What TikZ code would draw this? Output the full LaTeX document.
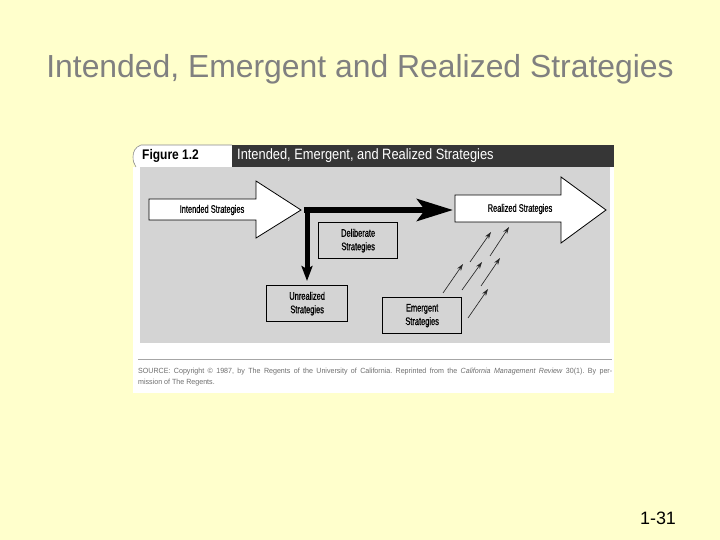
\documentclass[tikz,border=0pt]{standalone}
\usepackage{fontspec}
\setmainfont{Liberation Sans}
\newfontfamily\condf[FakeStretch=0.68,FakeBold=0.8]{Liberation Sans}
\newfontfamily\hdrf[FakeStretch=0.86]{Liberation Sans}
\newfontfamily\srcf[FakeStretch=0.95]{Liberation Sans}
\usetikzlibrary{arrows.meta}
\definecolor{slidebg}{HTML}{FFFFCC}
\definecolor{titlegray}{HTML}{808080}
\definecolor{panelgray}{HTML}{D4D4D4}
\definecolor{hdrbar}{HTML}{363636}
\definecolor{srcgray}{HTML}{6E6E6E}
\definecolor{tabline}{HTML}{8A8A8A}
\begin{document}
\frenchspacing
\begin{tikzpicture}[x=1bp,y=-1bp,
  lbl/.style={font=\condf\fontsize{11}{13.5}\selectfont, inner sep=0pt, align=center},
  sbox/.style={draw=black, line width=1.3bp, fill=panelgray, minimum height=36bp, anchor=north west, lbl},
  bigarrow/.style={draw=black, line width=0.8bp, fill=white, line join=miter},
  thickh/.style={line width=6bp, -{Stealth[length=36bp,width=22bp,inset=8bp]}},
  thickv/.style={line width=5bp, -{Stealth[length=15bp,width=11bp,inset=3bp]}},
  thinarrow/.style={draw=black!85, line width=0.65bp, -{Stealth[length=7bp,width=4.5bp]}}
]
\useasboundingbox (0,0) rectangle (720,540);
\fill[slidebg] (0,0) rectangle (720,540);

% slide title and page number
\node[font=\fontsize{32}{38}\selectfont, text=titlegray] (title) at (360,69) {Intended, Emergent and Realized Strategies};
\node[font=\fontsize{18}{22}\selectfont, text=black] (pagenum) at (658,518) {1-31};

% figure panel
\fill[white] (133,167) rectangle (614,393);
\fill[white] (232,145) -- (141,145) .. controls (135,147) and (133,152) .. (133,157) .. controls (133,161) and (134,164) .. (136,167) -- (232,167) -- cycle;
\draw[tabline, line width=0.6bp] (232,145) -- (141,145) .. controls (135,147) and (133,152) .. (133,157) .. controls (133,161) and (134,164) .. (136,167);
\fill[hdrbar] (232,145) rectangle (614,167);
\fill[panelgray] (140,167) rectangle (610,343);

\node[anchor=west, inner sep=0pt, font=\hdrf\bfseries\fontsize{14}{16}\selectfont] (figlabel) at (142,156) {Figure 1.2};
\node[anchor=west, inner sep=0pt, text=white, font=\hdrf\fontsize{15}{17}\selectfont] (figtitle) at (237,156) {Intended, Emergent, and Realized Strategies};

% big white arrows
\draw[bigarrow] (149,199) -- (256,199) -- (256,181) -- (301,210) -- (256,238) -- (256,220) -- (149,220) -- cycle;
\node[lbl] (intended) at (212,210) {Intended Strategies};
\draw[bigarrow] (455,195) -- (561,195) -- (561,177) -- (606,210) -- (561,243) -- (561,222) -- (455,222) -- cycle;
\node[lbl] (realized) at (520,209) {Realized Strategies};

% boxes
\node[sbox, minimum width=79bp] (deliberate) at (318,222) {Deliberate\\Strategies};
\node[sbox, minimum width=81bp] (unrealized) at (266,285) {Unrealized\\Strategies};
\node[sbox, minimum width=79bp] (emergent) at (382,297) {Emergent\\Strategies};

% thick L connector
\coordinate (hstart) at (304,210);
\coordinate (hend) at (453,210);
\coordinate (vstart) at (307,207);
\coordinate (vend) at (307,281);
\draw[thickh] (hstart) -- (hend);
\draw[thickv] (vstart) -- (vend);

% emergent small arrows
\coordinate (a1) at (443,293); \coordinate (b1) at (463,264);
\coordinate (a2) at (462,290); \coordinate (b2) at (482,262);
\coordinate (a3) at (481,286); \coordinate (b3) at (500,258);
\coordinate (a4) at (470,262); \coordinate (b4) at (491,232);
\coordinate (a5) at (490,256); \coordinate (b5) at (509,227);
\coordinate (a6) at (468,318); \coordinate (b6) at (488,289);
\foreach \i in {1,...,6} { \draw[thinarrow] (a\i) -- (b\i); }

% source note
\draw[black!35, line width=0.7bp] (138,359) -- (612,359);
\node[anchor=west, inner sep=0pt, text=srcgray, font=\srcf\fontsize{7.5}{9}\selectfont] (src1) at (138,372) {\makebox[474bp][s]{SOURCE: Copyright \textcopyright{} 1987, by The Regents of the University of California. Reprinted from the \textit{California Management Review} 30(1). By per-}};
\node[anchor=west, inner sep=0pt, text=srcgray, font=\srcf\fontsize{7.5}{9}\selectfont] (src2) at (138,383) {mission of The Regents.};
\end{tikzpicture}
\end{document}
